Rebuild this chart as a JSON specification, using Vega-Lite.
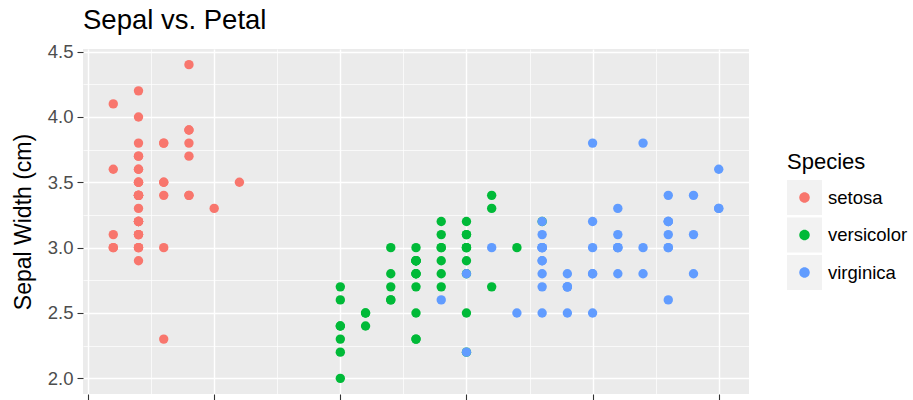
{
  "$schema": "https://vega.github.io/schema/vega-lite/v6.json",
  "width": 666,
  "height": 345,
  "autosize": {"type": "none"},
  "padding": {"left": 83, "top": 49, "right": 164, "bottom": 6},
  "background": "white",
  "title": {
    "text": "Sepal vs. Petal",
    "anchor": "start",
    "frame": "group",
    "font": "Liberation Sans",
    "fontSize": 27.5,
    "fontWeight": "normal",
    "color": "black",
    "offset": 8
  },
  "config": {
    "view": {"fill": "#EBEBEB", "stroke": null},
    "font": "Liberation Sans",
    "axis": {
      "domain": false,
      "gridColor": "white",
      "tickColor": "#333333",
      "tickWidth": 1.1,
      "labelFont": "Liberation Sans",
      "labelColor": "#4D4D4D",
      "labelFontSize": 18.5,
      "titleFont": "Liberation Sans",
      "titleFontWeight": "normal",
      "titleColor": "black",
      "titleFontSize": 23
    }
  },
  "data": {
    "values": [
      {"species": "setosa", "petalWidth": 0.2, "sepalWidth": 3.5},
      {"species": "setosa", "petalWidth": 0.2, "sepalWidth": 3.0},
      {"species": "setosa", "petalWidth": 0.2, "sepalWidth": 3.2},
      {"species": "setosa", "petalWidth": 0.2, "sepalWidth": 3.1},
      {"species": "setosa", "petalWidth": 0.2, "sepalWidth": 3.6},
      {"species": "setosa", "petalWidth": 0.4, "sepalWidth": 3.9},
      {"species": "setosa", "petalWidth": 0.3, "sepalWidth": 3.4},
      {"species": "setosa", "petalWidth": 0.2, "sepalWidth": 3.4},
      {"species": "setosa", "petalWidth": 0.2, "sepalWidth": 2.9},
      {"species": "setosa", "petalWidth": 0.1, "sepalWidth": 3.1},
      {"species": "setosa", "petalWidth": 0.2, "sepalWidth": 3.7},
      {"species": "setosa", "petalWidth": 0.2, "sepalWidth": 3.4},
      {"species": "setosa", "petalWidth": 0.1, "sepalWidth": 3.0},
      {"species": "setosa", "petalWidth": 0.1, "sepalWidth": 3.0},
      {"species": "setosa", "petalWidth": 0.2, "sepalWidth": 4.0},
      {"species": "setosa", "petalWidth": 0.4, "sepalWidth": 4.4},
      {"species": "setosa", "petalWidth": 0.4, "sepalWidth": 3.9},
      {"species": "setosa", "petalWidth": 0.3, "sepalWidth": 3.5},
      {"species": "setosa", "petalWidth": 0.3, "sepalWidth": 3.8},
      {"species": "setosa", "petalWidth": 0.3, "sepalWidth": 3.8},
      {"species": "setosa", "petalWidth": 0.2, "sepalWidth": 3.4},
      {"species": "setosa", "petalWidth": 0.4, "sepalWidth": 3.7},
      {"species": "setosa", "petalWidth": 0.2, "sepalWidth": 3.6},
      {"species": "setosa", "petalWidth": 0.5, "sepalWidth": 3.3},
      {"species": "setosa", "petalWidth": 0.2, "sepalWidth": 3.4},
      {"species": "setosa", "petalWidth": 0.2, "sepalWidth": 3.0},
      {"species": "setosa", "petalWidth": 0.4, "sepalWidth": 3.4},
      {"species": "setosa", "petalWidth": 0.2, "sepalWidth": 3.5},
      {"species": "setosa", "petalWidth": 0.2, "sepalWidth": 3.4},
      {"species": "setosa", "petalWidth": 0.2, "sepalWidth": 3.2},
      {"species": "setosa", "petalWidth": 0.2, "sepalWidth": 3.1},
      {"species": "setosa", "petalWidth": 0.4, "sepalWidth": 3.4},
      {"species": "setosa", "petalWidth": 0.1, "sepalWidth": 4.1},
      {"species": "setosa", "petalWidth": 0.2, "sepalWidth": 4.2},
      {"species": "setosa", "petalWidth": 0.2, "sepalWidth": 3.1},
      {"species": "setosa", "petalWidth": 0.2, "sepalWidth": 3.2},
      {"species": "setosa", "petalWidth": 0.2, "sepalWidth": 3.5},
      {"species": "setosa", "petalWidth": 0.1, "sepalWidth": 3.6},
      {"species": "setosa", "petalWidth": 0.2, "sepalWidth": 3.0},
      {"species": "setosa", "petalWidth": 0.2, "sepalWidth": 3.4},
      {"species": "setosa", "petalWidth": 0.3, "sepalWidth": 3.5},
      {"species": "setosa", "petalWidth": 0.3, "sepalWidth": 2.3},
      {"species": "setosa", "petalWidth": 0.2, "sepalWidth": 3.2},
      {"species": "setosa", "petalWidth": 0.6, "sepalWidth": 3.5},
      {"species": "setosa", "petalWidth": 0.4, "sepalWidth": 3.8},
      {"species": "setosa", "petalWidth": 0.3, "sepalWidth": 3.0},
      {"species": "setosa", "petalWidth": 0.2, "sepalWidth": 3.8},
      {"species": "setosa", "petalWidth": 0.2, "sepalWidth": 3.2},
      {"species": "setosa", "petalWidth": 0.2, "sepalWidth": 3.7},
      {"species": "setosa", "petalWidth": 0.2, "sepalWidth": 3.3},
      {"species": "versicolor", "petalWidth": 1.4, "sepalWidth": 3.2},
      {"species": "versicolor", "petalWidth": 1.5, "sepalWidth": 3.2},
      {"species": "versicolor", "petalWidth": 1.5, "sepalWidth": 3.1},
      {"species": "versicolor", "petalWidth": 1.3, "sepalWidth": 2.3},
      {"species": "versicolor", "petalWidth": 1.5, "sepalWidth": 2.8},
      {"species": "versicolor", "petalWidth": 1.3, "sepalWidth": 2.8},
      {"species": "versicolor", "petalWidth": 1.6, "sepalWidth": 3.3},
      {"species": "versicolor", "petalWidth": 1.0, "sepalWidth": 2.4},
      {"species": "versicolor", "petalWidth": 1.3, "sepalWidth": 2.9},
      {"species": "versicolor", "petalWidth": 1.4, "sepalWidth": 2.7},
      {"species": "versicolor", "petalWidth": 1.0, "sepalWidth": 2.0},
      {"species": "versicolor", "petalWidth": 1.5, "sepalWidth": 3.0},
      {"species": "versicolor", "petalWidth": 1.0, "sepalWidth": 2.2},
      {"species": "versicolor", "petalWidth": 1.4, "sepalWidth": 2.9},
      {"species": "versicolor", "petalWidth": 1.3, "sepalWidth": 2.9},
      {"species": "versicolor", "petalWidth": 1.4, "sepalWidth": 3.1},
      {"species": "versicolor", "petalWidth": 1.5, "sepalWidth": 3.0},
      {"species": "versicolor", "petalWidth": 1.0, "sepalWidth": 2.7},
      {"species": "versicolor", "petalWidth": 1.5, "sepalWidth": 2.2},
      {"species": "versicolor", "petalWidth": 1.1, "sepalWidth": 2.5},
      {"species": "versicolor", "petalWidth": 1.8, "sepalWidth": 3.2},
      {"species": "versicolor", "petalWidth": 1.3, "sepalWidth": 2.8},
      {"species": "versicolor", "petalWidth": 1.5, "sepalWidth": 2.5},
      {"species": "versicolor", "petalWidth": 1.2, "sepalWidth": 2.8},
      {"species": "versicolor", "petalWidth": 1.3, "sepalWidth": 2.9},
      {"species": "versicolor", "petalWidth": 1.4, "sepalWidth": 3.0},
      {"species": "versicolor", "petalWidth": 1.4, "sepalWidth": 2.8},
      {"species": "versicolor", "petalWidth": 1.7, "sepalWidth": 3.0},
      {"species": "versicolor", "petalWidth": 1.5, "sepalWidth": 2.9},
      {"species": "versicolor", "petalWidth": 1.0, "sepalWidth": 2.6},
      {"species": "versicolor", "petalWidth": 1.1, "sepalWidth": 2.4},
      {"species": "versicolor", "petalWidth": 1.0, "sepalWidth": 2.4},
      {"species": "versicolor", "petalWidth": 1.2, "sepalWidth": 2.7},
      {"species": "versicolor", "petalWidth": 1.6, "sepalWidth": 2.7},
      {"species": "versicolor", "petalWidth": 1.5, "sepalWidth": 3.0},
      {"species": "versicolor", "petalWidth": 1.6, "sepalWidth": 3.4},
      {"species": "versicolor", "petalWidth": 1.5, "sepalWidth": 3.1},
      {"species": "versicolor", "petalWidth": 1.3, "sepalWidth": 2.3},
      {"species": "versicolor", "petalWidth": 1.3, "sepalWidth": 3.0},
      {"species": "versicolor", "petalWidth": 1.3, "sepalWidth": 2.5},
      {"species": "versicolor", "petalWidth": 1.2, "sepalWidth": 2.6},
      {"species": "versicolor", "petalWidth": 1.4, "sepalWidth": 3.0},
      {"species": "versicolor", "petalWidth": 1.2, "sepalWidth": 2.6},
      {"species": "versicolor", "petalWidth": 1.0, "sepalWidth": 2.3},
      {"species": "versicolor", "petalWidth": 1.3, "sepalWidth": 2.7},
      {"species": "versicolor", "petalWidth": 1.2, "sepalWidth": 3.0},
      {"species": "versicolor", "petalWidth": 1.3, "sepalWidth": 2.9},
      {"species": "versicolor", "petalWidth": 1.3, "sepalWidth": 2.9},
      {"species": "versicolor", "petalWidth": 1.1, "sepalWidth": 2.5},
      {"species": "versicolor", "petalWidth": 1.3, "sepalWidth": 2.8},
      {"species": "virginica", "petalWidth": 2.5, "sepalWidth": 3.3},
      {"species": "virginica", "petalWidth": 1.9, "sepalWidth": 2.7},
      {"species": "virginica", "petalWidth": 2.1, "sepalWidth": 3.0},
      {"species": "virginica", "petalWidth": 1.8, "sepalWidth": 2.9},
      {"species": "virginica", "petalWidth": 2.2, "sepalWidth": 3.0},
      {"species": "virginica", "petalWidth": 2.1, "sepalWidth": 3.0},
      {"species": "virginica", "petalWidth": 1.7, "sepalWidth": 2.5},
      {"species": "virginica", "petalWidth": 1.8, "sepalWidth": 2.9},
      {"species": "virginica", "petalWidth": 1.8, "sepalWidth": 2.5},
      {"species": "virginica", "petalWidth": 2.5, "sepalWidth": 3.6},
      {"species": "virginica", "petalWidth": 2.0, "sepalWidth": 3.2},
      {"species": "virginica", "petalWidth": 1.9, "sepalWidth": 2.7},
      {"species": "virginica", "petalWidth": 2.1, "sepalWidth": 3.0},
      {"species": "virginica", "petalWidth": 2.0, "sepalWidth": 2.5},
      {"species": "virginica", "petalWidth": 2.4, "sepalWidth": 2.8},
      {"species": "virginica", "petalWidth": 2.3, "sepalWidth": 3.2},
      {"species": "virginica", "petalWidth": 1.8, "sepalWidth": 3.0},
      {"species": "virginica", "petalWidth": 2.2, "sepalWidth": 3.8},
      {"species": "virginica", "petalWidth": 2.3, "sepalWidth": 2.6},
      {"species": "virginica", "petalWidth": 1.5, "sepalWidth": 2.2},
      {"species": "virginica", "petalWidth": 2.3, "sepalWidth": 3.2},
      {"species": "virginica", "petalWidth": 2.0, "sepalWidth": 2.8},
      {"species": "virginica", "petalWidth": 2.0, "sepalWidth": 2.8},
      {"species": "virginica", "petalWidth": 1.8, "sepalWidth": 2.7},
      {"species": "virginica", "petalWidth": 2.1, "sepalWidth": 3.3},
      {"species": "virginica", "petalWidth": 1.8, "sepalWidth": 3.2},
      {"species": "virginica", "petalWidth": 1.8, "sepalWidth": 2.8},
      {"species": "virginica", "petalWidth": 1.8, "sepalWidth": 3.0},
      {"species": "virginica", "petalWidth": 2.1, "sepalWidth": 2.8},
      {"species": "virginica", "petalWidth": 1.6, "sepalWidth": 3.0},
      {"species": "virginica", "petalWidth": 1.9, "sepalWidth": 2.8},
      {"species": "virginica", "petalWidth": 2.0, "sepalWidth": 3.8},
      {"species": "virginica", "petalWidth": 2.2, "sepalWidth": 2.8},
      {"species": "virginica", "petalWidth": 1.5, "sepalWidth": 2.8},
      {"species": "virginica", "petalWidth": 1.4, "sepalWidth": 2.6},
      {"species": "virginica", "petalWidth": 2.3, "sepalWidth": 3.0},
      {"species": "virginica", "petalWidth": 2.4, "sepalWidth": 3.4},
      {"species": "virginica", "petalWidth": 1.8, "sepalWidth": 3.1},
      {"species": "virginica", "petalWidth": 1.8, "sepalWidth": 3.0},
      {"species": "virginica", "petalWidth": 2.1, "sepalWidth": 3.1},
      {"species": "virginica", "petalWidth": 2.4, "sepalWidth": 3.1},
      {"species": "virginica", "petalWidth": 2.3, "sepalWidth": 3.1},
      {"species": "virginica", "petalWidth": 1.9, "sepalWidth": 2.7},
      {"species": "virginica", "petalWidth": 2.3, "sepalWidth": 3.2},
      {"species": "virginica", "petalWidth": 2.5, "sepalWidth": 3.3},
      {"species": "virginica", "petalWidth": 2.3, "sepalWidth": 3.0},
      {"species": "virginica", "petalWidth": 1.9, "sepalWidth": 2.5},
      {"species": "virginica", "petalWidth": 2.0, "sepalWidth": 3.0},
      {"species": "virginica", "petalWidth": 2.3, "sepalWidth": 3.4},
      {"species": "virginica", "petalWidth": 1.8, "sepalWidth": 3.0}
    ]
  },
  "encoding": {
    "x": {
      "field": "petalWidth",
      "type": "quantitative",
      "scale": {"domain": [-0.02, 2.62], "nice": false, "zero": false},
      "axis": {
        "title": null,
        "labels": false,
        "values": [0, 0.25, 0.5, 0.75, 1, 1.25, 1.5, 1.75, 2, 2.25, 2.5],
        "tickSize": 6,
        "tickOpacity": {"condition": {"test": "datum.value * 2 % 1 !== 0", "value": 0}, "value": 1},
        "gridWidth": {"condition": {"test": "datum.value * 2 % 1 !== 0", "value": 0.7}, "value": 1.4}
      }
    },
    "y": {
      "field": "sepalWidth",
      "type": "quantitative",
      "title": "Sepal Width (cm)",
      "scale": {"domain": [1.88, 4.52], "nice": false, "zero": false},
      "axis": {
        "values": [2, 2.25, 2.5, 2.75, 3, 3.25, 3.5, 3.75, 4, 4.25, 4.5],
        "labelExpr": "datum.value * 2 % 1 === 0 ? format(datum.value, '.1f') : ''",
        "tickSize": 6,
        "labelPadding": 4,
        "titlePadding": 12,
        "tickOpacity": {"condition": {"test": "datum.value * 2 % 1 !== 0", "value": 0}, "value": 1},
        "gridWidth": {"condition": {"test": "datum.value * 2 % 1 !== 0", "value": 0.7}, "value": 1.4}
      }
    }
  },
  "layer": [
    {
      "mark": {"type": "point", "filled": true, "shape": "square", "size": 0},
      "encoding": {
        "fill": {
          "field": "species",
          "type": "nominal",
          "scale": {"domain": ["setosa", "versicolor", "virginica"], "range": ["#F2F2F2", "#F2F2F2", "#F2F2F2"]},
          "legend": {
            "orient": "none",
            "legendX": 704,
            "legendY": 103,
            "title": "Species",
            "titleFontSize": 22,
            "titleFontWeight": "normal",
            "titleColor": "black",
            "titlePadding": 6,
            "symbolType": "square",
            "symbolSize": 1225,
            "symbolStrokeWidth": 0,
            "symbolOpacity": 1,
            "labelFontSize": 18.5,
            "labelColor": "black",
            "labelOffset": 6,
            "rowPadding": 2.5,
            "padding": 0,
            "zindex": 0
          }
        }
      }
    },
    {
      "mark": {"type": "point", "filled": true, "size": 88, "opacity": 1},
      "encoding": {
        "color": {
          "field": "species",
          "type": "nominal",
          "scale": {"range": ["#F8766D", "#00BA38", "#619CFF"]},
          "legend": {
            "orient": "none",
            "legendX": 704,
            "legendY": 103,
            "title": "Species",
            "titleFontSize": 22,
            "titleFontWeight": "normal",
            "titleColor": "transparent",
            "titlePadding": 6,
            "symbolType": "M -1 -1 M 1 1 M -0.3 0 A 0.3 0.3 0 1 0 0.3 0 A 0.3 0.3 0 1 0 -0.3 0 Z",
            "symbolSize": 1225,
            "symbolStrokeWidth": 0,
            "symbolOpacity": 1,
            "labelFontSize": 18.5,
            "labelColor": "transparent",
            "labelOffset": 6,
            "rowPadding": 2.5,
            "padding": 0,
            "zindex": 1
          }
        }
      }
    }
  ]
}
